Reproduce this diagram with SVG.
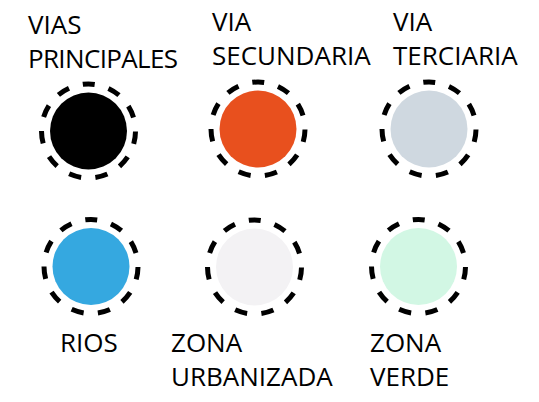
<svg xmlns="http://www.w3.org/2000/svg" width="539" height="402" viewBox="0 0 539 402">
<style>
.ring{fill:none;stroke:#000;stroke-width:5;stroke-dasharray:12.5 14.347;stroke-dashoffset:6.25}
.lbl{font-family:"Open Sans","Noto Sans",sans-serif;font-size:26px;fill:#000}
</style>
<rect width="539" height="402" fill="#fff"/>
<g id="vias-principales">
<circle cx="88.5" cy="131" r="38.5" fill="#000"/>
<circle class="ring" cx="88.5" cy="131" r="47" transform="rotate(-90 88.5 131)"/>
<text class="lbl" x="28" y="34">VIAS</text>
<text class="lbl" x="28" y="68" textLength="150">PRINCIPALES</text>
</g>
<g id="via-secundaria">
<circle cx="258" cy="129" r="38.5" fill="#E8501E"/>
<circle class="ring" cx="258" cy="129" r="47" transform="rotate(-90 258 129)"/>
<text class="lbl" x="212" y="31">VIA</text>
<text class="lbl" x="212" y="65">SECUNDARIA</text>
</g>
<g id="via-terciaria">
<circle cx="429" cy="129" r="38.5" fill="#CFD8E0"/>
<circle class="ring" cx="429" cy="129" r="47" transform="rotate(-90 429 129)"/>
<text class="lbl" x="393" y="31">VIA</text>
<text class="lbl" x="393" y="65">TERCIARIA</text>
</g>
<g id="rios">
<circle cx="91" cy="266.5" r="38.5" fill="#35A8E0"/>
<circle class="ring" cx="91" cy="266.5" r="47" transform="rotate(-90 91 266.5)"/>
<text class="lbl" x="60" y="352">RIOS</text>
</g>
<g id="zona-urbanizada">
<circle cx="254.5" cy="267" r="38.5" fill="#F3F2F4"/>
<circle class="ring" cx="254.5" cy="267" r="47" transform="rotate(-90 254.5 267)"/>
<text class="lbl" x="171" y="352">ZONA</text>
<text class="lbl" x="171" y="386">URBANIZADA</text>
</g>
<g id="zona-verde">
<circle cx="418.5" cy="266.5" r="38.5" fill="#D2F7E4"/>
<circle class="ring" cx="418.5" cy="266.5" r="47" transform="rotate(-90 418.5 266.5)"/>
<text class="lbl" x="370" y="352">ZONA</text>
<text class="lbl" x="370" y="386">VERDE</text>
</g>
<g id="connectors"/>
</svg>
